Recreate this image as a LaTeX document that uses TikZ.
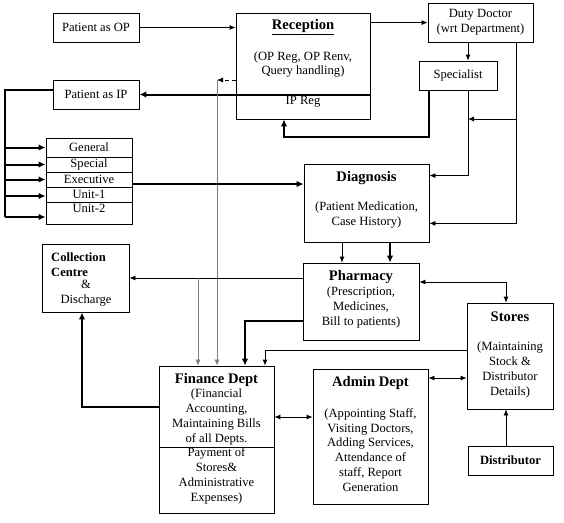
\documentclass[tikz,border=0pt]{standalone}
\usepackage{fontspec}
\setmainfont{Liberation Serif}
\usetikzlibrary{arrows.meta}

\definecolor{drawColor}{RGB}{0,0,0}
\definecolor{lineGray}{RGB}{125,125,125}
\newcommand{\bodyFont}{\fontsize{12.6}{14.8}\selectfont}
\newcommand{\titleFont}{\fontsize{14.6}{17}\selectfont\bfseries}

\tikzset{
  boxStyle/.style={draw=drawColor, line width=0.8pt, inner sep=0pt},
  bodyText/.style={align=center, inner sep=0pt, font=\bodyFont},
  titleText/.style={align=center, inner sep=0pt, font=\titleFont},
  thinArrow/.style={draw=drawColor, line width=0.8pt, -{Latex[length=6pt,width=5pt]}},
  heavyArrow/.style={draw=drawColor, line width=2pt, -{Latex[length=7pt,width=6.5pt]}},
  grayArrow/.style={draw=lineGray, line width=0.7pt, -{Latex[length=6pt,width=5pt]}},
  bothArrow/.style={draw=drawColor, line width=0.8pt, {Latex[length=6pt,width=5pt]}-{Latex[length=6pt,width=5pt]}}
}

\begin{document}
\begin{tikzpicture}[x=1pt,y=-1pt]
\path[use as bounding box,fill=white] (0,0) rectangle (564,522);

% boxes
\node[boxStyle, bodyText, minimum width=86, minimum height=29] (op) at (96,27.5) {Patient as OP};
\node[boxStyle, bodyText, minimum width=86, minimum height=29] (ip) at (96,94.5) {Patient as IP};
\node[boxStyle, minimum width=134, minimum height=106] (rec) at (303,66) {};
\node[titleText] (recTitle) at (303,27) {\underline{Reception}};
\node[bodyText] (recBody) at (303,64.5) {(OP Reg, OP Renv,\\Query handling)};
\node[bodyText] (recIp) at (303,102) {IP Reg};
\node[boxStyle, bodyText, minimum width=105, minimum height=39] (duty) at (480.5,22.5) {Duty Doctor\\(wrt Department)};
\node[boxStyle, bodyText, minimum width=78, minimum height=29] (spec) at (458,75.5) {Specialist};

\node[boxStyle, bodyText, minimum width=86, minimum height=19] (rowGen) at (89,147.5) {General};
\node[boxStyle, bodyText, minimum width=86, minimum height=15] (rowSpe) at (89,164.5) {Special};
\node[boxStyle, bodyText, minimum width=86, minimum height=15] (rowExe) at (89,179.5) {Executive};
\node[boxStyle, bodyText, minimum width=86, minimum height=15] (rowUa) at (89,194.5) {Unit-1};
\node[boxStyle, bodyText, minimum width=86, minimum height=22, text depth=9pt] (rowUb) at (89,213) {Unit-2};

\node[boxStyle, minimum width=125, minimum height=78] (diag) at (366.5,203) {};
\node[titleText] (diagTitle) at (366.5,178) {Diagnosis};
\node[bodyText] (diagBody) at (366.5,215) {(Patient Medication,\\Case History)};

\node[boxStyle, minimum width=87, minimum height=68] (coll) at (85.5,278) {};
\node[bodyText, font=\bodyFont\bfseries, align=left, anchor=west] (collTitle) at (51,264.5) {Collection\\Centre};
\node[bodyText] (collBody) at (86,293.5) {\&\\Discharge};

\node[boxStyle, minimum width=116, minimum height=77] (pha) at (361,301.5) {};
\node[titleText] (phaTitle) at (361,277) {Pharmacy};
\node[bodyText] (phaBody) at (361,307.5) {(Prescription,\\Medicines,\\Bill to patients)};

\node[boxStyle, minimum width=86, minimum height=106] (sto) at (510,356) {};
\node[titleText] (stoTitle) at (510,317) {Stores};
\node[bodyText] (stoBody) at (510,370) {(Maintaining\\Stock \&\\Distributor\\Details)};

\node[boxStyle, minimum width=115, minimum height=81] (fin) at (216.5,406.5) {};
\node[boxStyle, minimum width=115, minimum height=66] (finLow) at (216.5,480) {};
\node[titleText] (finTitle) at (216.5,380) {Finance Dept};
\node[bodyText] (finBody) at (216.5,417) {(Financial\\Accounting,\\Maintaining Bills\\of all Depts.};
\node[bodyText] (finLowBody) at (216.5,476) {Payment of\\Stores\&\\Administrative\\Expenses)};

\node[boxStyle, minimum width=115, minimum height=135] (adm) at (370.5,436.5) {};
\node[titleText] (admTitle) at (370.5,383) {Admin Dept};
\node[bodyText] (admBody) at (370.5,450) {(Appointing Staff,\\Visiting Doctors,\\Adding Services,\\Attendance of\\staff, Report\\Generation};

\node[boxStyle, bodyText, font=\bodyFont\bfseries, minimum width=85, minimum height=29] (dist) at (510.5,460.5) {Distributor};

% turning points
\coordinate (recOut) at ([yshift=-10pt]rec.north east);
\coordinate (dashEnd) at (217,80);
\coordinate (busEnd) at (5,217);
\coordinate (dutyX) at (468,0);
\coordinate (dutyR) at (516,0);
\coordinate (branchY) at (0,119);
\coordinate (specTurn) at (284,137);
\coordinate (exeOut) at ([yshift=-4.5pt]rowExe.east);
\coordinate (dpA) at (342,0);
\coordinate (dpB) at (390,0);
\coordinate (grayA) at (198,0);
\coordinate (phaFin) at (245,321);
\coordinate (stoFin) at (265,350);
\coordinate (stoX) at (506,282);
\coordinate (admSto) at (0,378);
\coordinate (finAdm) at (0,417);
\coordinate (finColl) at (82,407);

% connectors
\draw[thinArrow] (op.east) -- (rec.west |- op.east);
\draw[thinArrow] (recOut) -- (duty.west |- recOut);
\draw[heavyArrow] (rec.east |- ip.east) -- (ip.east);
\draw[thinArrow, dash pattern=on 4pt off 3pt] (rec.west |- dashEnd) -- (dashEnd);
\draw[grayArrow] (dashEnd) -- (dashEnd |- fin.north);

\draw[draw=drawColor, line width=2pt] ([yshift=4.5pt]ip.west) -| (busEnd);
\draw[heavyArrow] (busEnd |- rowGen.west) -- (rowGen.west);
\draw[heavyArrow] (busEnd |- rowSpe.west) -- (rowSpe.west);
\draw[heavyArrow] (busEnd |- rowExe.west) -- (rowExe.west);
\draw[heavyArrow] ([yshift=-1.5pt]busEnd |- rowUa.west) -- ([yshift=-1.5pt]rowUa.west);
\draw[heavyArrow] (busEnd) -- (rowUb.west |- busEnd);
\draw[heavyArrow] (exeOut) -- (diag.west |- exeOut);

\draw[thinArrow] (duty.south -| dutyX) -- (spec.north -| dutyX);
\draw[thinArrow] (spec.south -| dutyX) |- ([yshift=-12pt]diag.north east);
\draw[thinArrow] (duty.south -| dutyR) |- ([yshift=19pt]diag.south east);
\draw[thinArrow] (dutyR |- branchY) -- (dutyX |- branchY);
\draw[heavyArrow] ([xshift=10pt]spec.south west) |- (specTurn) -- (specTurn |- rec.south);

\draw[thinArrow] (diag.south -| dpA) -- (pha.north -| dpA);
\draw[heavyArrow] (diag.south -| dpB) -- (pha.north -| dpB);

\draw[thinArrow] (pha.west |- coll.east) -- (coll.east);
\draw[grayArrow] (coll.east -| grayA) -- (fin.north -| grayA);
\draw[heavyArrow] (pha.west |- phaFin) -| (fin.north -| phaFin);
\draw[thinArrow] (sto.west |- stoFin) -| (fin.north -| stoFin);
\draw[bothArrow] (pha.east |- stoX) -| (sto.north -| stoX);
\draw[bothArrow] (adm.east |- admSto) -- (sto.west |- admSto);
\draw[bothArrow] (fin.east |- finAdm) -- (adm.west |- finAdm);
\draw[heavyArrow] (fin.west |- finColl) -| (coll.south -| finColl);
\draw[thinArrow] (dist.north -| stoX) -- (sto.south -| stoX);
\end{tikzpicture}
\end{document}
